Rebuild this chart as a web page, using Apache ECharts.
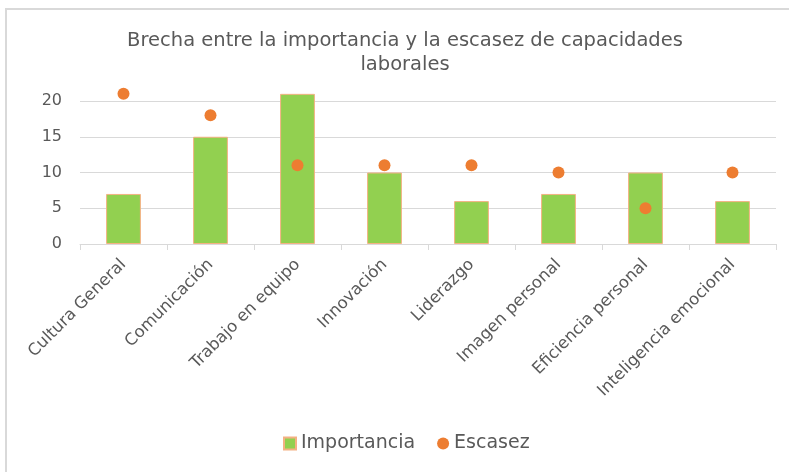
<!DOCTYPE html>
<html>
<head>
<meta charset="utf-8">
<script src="https://cdn.jsdelivr.net/npm/echarts@6/dist/echarts.min.js"></script>
<style>
  html, body { margin: 0; padding: 0; background: #fff; }
  #chart { width: 789px; height: 472px; }
</style>
</head>
<body>
<div id="chart"></div>
<script>
// Capacidades laborales evaluadas
const categories = [
  'Cultura General', 'Comunicación', 'Trabajo en equipo', 'Innovación',
  'Liderazgo', 'Imagen personal', 'Eficiencia personal', 'Inteligencia emocional'
];
// Importancia asignada a cada capacidad
const importancia = [7, 15, 21, 10, 6, 7, 10, 6];
// Escasez percibida de cada capacidad
const escasez = [21, 18, 11, 11, 11, 10, 5, 10];
// Marcas del eje vertical
const yTicks = [0, 5, 10, 15, 20];

const FONT = 'DejaVu Sans';
const TEXT = '#595959';

const chart = echarts.init(document.getElementById('chart'), null, { renderer: 'canvas' });

chart.setOption({
  animation: false,
  backgroundColor: '#ffffff',
  textStyle: { fontFamily: FONT },
  graphic: [{
    type: 'rect',
    shape: { x: 6, y: 9, width: 800, height: 480 },
    style: { fill: 'none', stroke: '#D9D9D9', lineWidth: 2 },
    silent: true,
    z: -1
  }],
  title: {
    text: 'Brecha entre la importancia y la escasez de capacidades\nlaborales',
    left: 400,
    top: 24,
    textAlign: 'center',
    padding: 5,
    textStyle: {
      fontFamily: FONT,
      fontWeight: 'normal',
      fontSize: 19.5,
      color: TEXT,
      lineHeight: 24
    }
  },
  legend: {
    bottom: 14,
    left: 278,
    padding: 5,
    itemGap: 22,
    itemWidth: 12,
    itemHeight: 12,
    textStyle: { fontFamily: FONT, fontSize: 19, color: TEXT },
    data: [
      { name: 'Importancia', icon: 'rect' },
      { name: 'Escasez', icon: 'circle' }
    ]
  },
  grid: { left: 80, right: 13, top: 101, bottom: 228, containLabel: false },
  xAxis: {
    type: 'category',
    data: categories,
    axisLine: { lineStyle: { color: '#D9D9D9', width: 1 } },
    axisTick: { show: true, length: 6, lineStyle: { color: '#D9D9D9' } },
    axisLabel: {
      rotate: 45,
      interval: 0,
      margin: 18,
      fontFamily: FONT,
      fontSize: 16.5,
      color: TEXT
    }
  },
  yAxis: {
    type: 'value',
    min: yTicks[0],
    max: yTicks[yTicks.length - 1],
    interval: 5,
    axisLine: { show: false },
    axisTick: { show: false },
    axisLabel: { fontFamily: FONT, fontSize: 16, color: TEXT, margin: 18 },
    splitLine: { lineStyle: { color: '#D9D9D9', width: 1 } }
  },
  series: [
    {
      name: 'Importancia',
      type: 'bar',
      data: importancia,
      barWidth: '40%',
      clip: false,
      itemStyle: { color: '#92D050', borderColor: '#F4B183', borderWidth: 1 }
    },
    {
      name: 'Escasez',
      type: 'scatter',
      data: escasez,
      symbol: 'circle',
      symbolSize: 12,
      clip: false,
      itemStyle: { color: '#ED7D31', opacity: 1 }
    }
  ]
});
</script>
</body>
</html>
